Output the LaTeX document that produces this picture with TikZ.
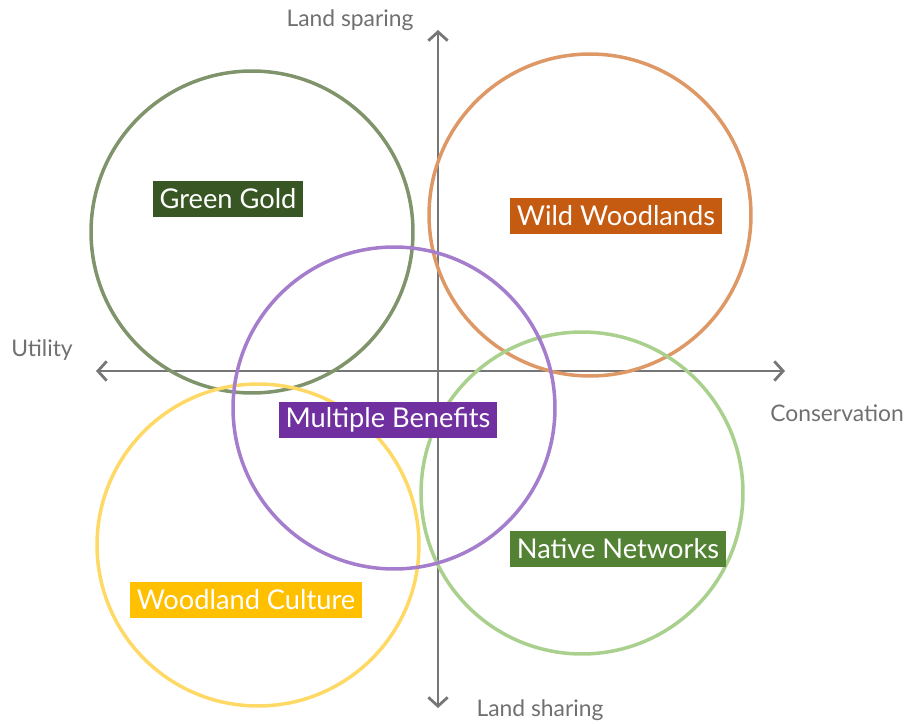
\documentclass[tikz,border=0pt]{standalone}
\usepackage{fontspec}
\setmainfont{Lato}
\usepackage{tikz}
\usetikzlibrary{arrows.meta}

\definecolor{axisGray}{RGB}{118,118,118}
\definecolor{textGray}{RGB}{112,112,112}
\definecolor{goldLine}{RGB}{128,148,108}
\definecolor{goldFill}{RGB}{55,86,35}
\definecolor{wildLine}{RGB}{222,152,102}
\definecolor{wildFill}{RGB}{197,90,17}
\definecolor{multiLine}{RGB}{165,125,205}
\definecolor{multiFill}{RGB}{112,48,160}
\definecolor{nativeLine}{RGB}{170,208,142}
\definecolor{nativeFill}{RGB}{84,130,53}
\definecolor{cultureLine}{RGB}{255,217,102}
\definecolor{cultureFill}{RGB}{255,192,0}

\begin{document}
\begin{tikzpicture}[
  x=0.02cm, y=-0.02cm,
  axis/.style={{Straight Barb[length=5pt,width=11pt]}-{Straight Barb[length=5pt,width=11pt]}, draw=axisGray, line width=1.6pt},
  axislabel/.style={text=textGray, font=\fontsize{13}{15}\selectfont},
  ring/.style={circle, draw=#1, line width=2pt, minimum size=6.44cm, inner sep=0pt},
  tag/.style={fill=#1, text=white, inner xsep=4pt, minimum height=20pt, font=\fontsize{15.5}{17}\selectfont}]

\useasboundingbox (0,0) rectangle (915,723);

% End points of the two axes
\coordinate (sparingEnd) at (438,30);
\coordinate (sharingEnd) at (438,708);
\coordinate (utilityEnd) at (96,371);
\coordinate (conservationEnd) at (785,371);

\draw [axis] (sharingEnd) -- (sparingEnd);
\draw [axis] (utilityEnd) -- (conservationEnd);

% Axis labels
\node[axislabel] (landSparing) at (350,20) {Land sparing};
\node[axislabel] (landSharing) at (540,710) {Land sharing};
\node[axislabel] (utility) at (42,350) {Utility};
\node[axislabel] (conservation) at (837,413) {Conservation};

% The five scenarios
\node[ring=goldLine] (greenGoldRing) at (252,232) {};
\node[ring=wildLine] (wildWoodlandsRing) at (590,215) {};
\node[ring=cultureLine] (woodlandCultureRing) at (258,545) {};
\node[ring=nativeLine] (nativeNetworksRing) at (582,493) {};
\node[ring=multiLine] (multipleBenefitsRing) at (394,408) {};

% Labels of the scenarios
\node[tag=goldFill] (greenGold) at (228,199) {Green Gold};
\node[tag=wildFill] (wildWoodlands) at (616,216) {Wild Woodlands};
\node[tag=multiFill] (multipleBenefits) at (388,420) {Multiple Benefits};
\node[tag=nativeFill] (nativeNetworks) at (618,549) {Native Networks};
\node[tag=cultureFill] (woodlandCulture) at (246,600) {Woodland Culture};

\end{tikzpicture}
\end{document}
